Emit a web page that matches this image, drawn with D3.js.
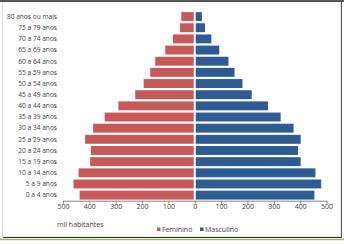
<!DOCTYPE html>
<html>
<head>
<meta charset="utf-8">
<script src="https://cdn.jsdelivr.net/npm/d3@7"></script>
<style>
  html, body { margin: 0; padding: 0; background: #fff; }
  svg { display: block; }
  text { font-family: "Open Sans", "Liberation Sans", sans-serif; fill: #404040; }
</style>
</head>
<body>
<script>
// Faixas etárias, de baixo para cima (0 a 4 anos na base)
const ageGroups = [
  "0 a 4 anos", "5 a 9 anos", "10 a 14 anos", "15 a 19 anos", "20 a 24 anos",
  "25 a 29 anos", "30 a 34 anos", "35 a 39 anos", "40 a 44 anos", "45 a 49 anos",
  "50 a 54 anos", "55 a 59 anos", "60 a 64 anos", "65 a 69 anos", "70 a 74 anos",
  "75 a 79 anos", "80 anos ou mais"
];
// População em mil habitantes
const feminino = [437, 460, 441, 397, 394, 416, 386, 342, 290, 226, 194, 169, 150, 112, 83, 56, 51];
const masculino = [454, 480, 458, 402, 392, 402, 375, 326, 278, 216, 181, 151, 128, 93, 63, 39, 27];
const xTicks = [-500, -400, -300, -200, -100, 0, 100, 200, 300, 400, 500];
const seriesNames = ["Feminino", "Masculino"];
const seriesColors = ["#C65A5B", "#2F5B93"];
const textColor = "#404040";

const W = 344, H = 244;
const svg = d3.select("body").append("svg").attr("width", W).attr("height", H);

// moldura da área do gráfico
svg.append("rect").attr("x", 2.5).attr("y", 1.5).attr("width", 338.5).attr("height", 235.5)
  .attr("fill", "#fff").attr("stroke", "#d9d9d9").attr("stroke-width", 1);
svg.append("line").attr("x1", 0).attr("x2", W).attr("y1", 1).attr("y2", 1)
  .attr("stroke", "#222").attr("stroke-width", 1.5);
svg.append("line").attr("x1", 341.5).attr("x2", 341.5).attr("y1", 1).attr("y2", 238)
  .attr("stroke", "#555").attr("stroke-width", 1);
svg.append("line").attr("x1", 3).attr("x2", 342).attr("y1", 237.5).attr("y2", 237.5)
  .attr("stroke", "#333").attr("stroke-width", 1);
svg.append("line").attr("x1", 0).attr("x2", W).attr("y1", 239.5).attr("y2", 239.5)
  .attr("stroke", "#9bbb59").attr("stroke-width", 1.5);

const x = d3.scaleLinear().domain([-500, 500]).range([63, 326.5]);
const y = d3.scaleBand().domain(ageGroups.slice().reverse()).range([11, 200.7]).paddingInner(0.2).paddingOuter(0.1);

const rows = ageGroups.map((g, i) => ({ g, f: feminino[i], m: masculino[i] }));

// barras femininas (à esquerda)
svg.append("g").selectAll("rect").data(rows).join("rect")
  .attr("x", d => x(-d.f))
  .attr("y", d => y(d.g))
  .attr("width", d => x(0) - 1 - x(-d.f))
  .attr("height", y.bandwidth())
  .attr("fill", seriesColors[0]);

// barras masculinas (à direita)
svg.append("g").selectAll("rect").data(rows).join("rect")
  .attr("x", x(0) + 1)
  .attr("y", d => y(d.g))
  .attr("width", d => x(d.m) - x(0) - 1)
  .attr("height", y.bandwidth())
  .attr("fill", seriesColors[1]);

// eixo horizontal
const axisY = 200.7;
const xAxis = d3.axisBottom(x).tickValues(xTicks).tickSize(3).tickSizeOuter(0)
  .tickFormat(d => Math.abs(d));
const gx = svg.append("g").attr("transform", `translate(0,${axisY})`).call(xAxis);
gx.select(".domain").attr("stroke", "#868686");
gx.selectAll(".tick line").attr("stroke", "#868686");
gx.selectAll(".tick text").attr("font-size", 7).attr("dy", "0.6em").attr("y", 4)
  .attr("fill", textColor)
  .style("font-family", "'Open Sans', 'Liberation Sans', sans-serif");

// rótulos das faixas etárias
svg.append("g").selectAll("text").data(ageGroups).join("text")
  .attr("x", 57)
  .attr("y", d => y(d) + y.bandwidth() / 2)
  .attr("dy", "0.35em")
  .attr("text-anchor", "end")
  .attr("font-size", 6.6)
  .attr("fill", textColor)
  .text(d => d);

// título do eixo
svg.append("text").attr("x", 57).attr("y", 226.5).attr("font-size", 7)
  .attr("fill", textColor).text("mil habitantes");

// legenda
const legend = svg.append("g");
const legendX = [157, 200];
seriesNames.forEach((name, i) => {
  legend.append("rect").attr("x", legendX[i]).attr("y", 227.5).attr("width", 3.5).attr("height", 3.5)
    .attr("fill", seriesColors[i]);
  legend.append("text").attr("x", legendX[i] + 5).attr("y", 231.5).attr("font-size", 7)
    .attr("fill", textColor).text(name);
});
</script>
</body>
</html>
